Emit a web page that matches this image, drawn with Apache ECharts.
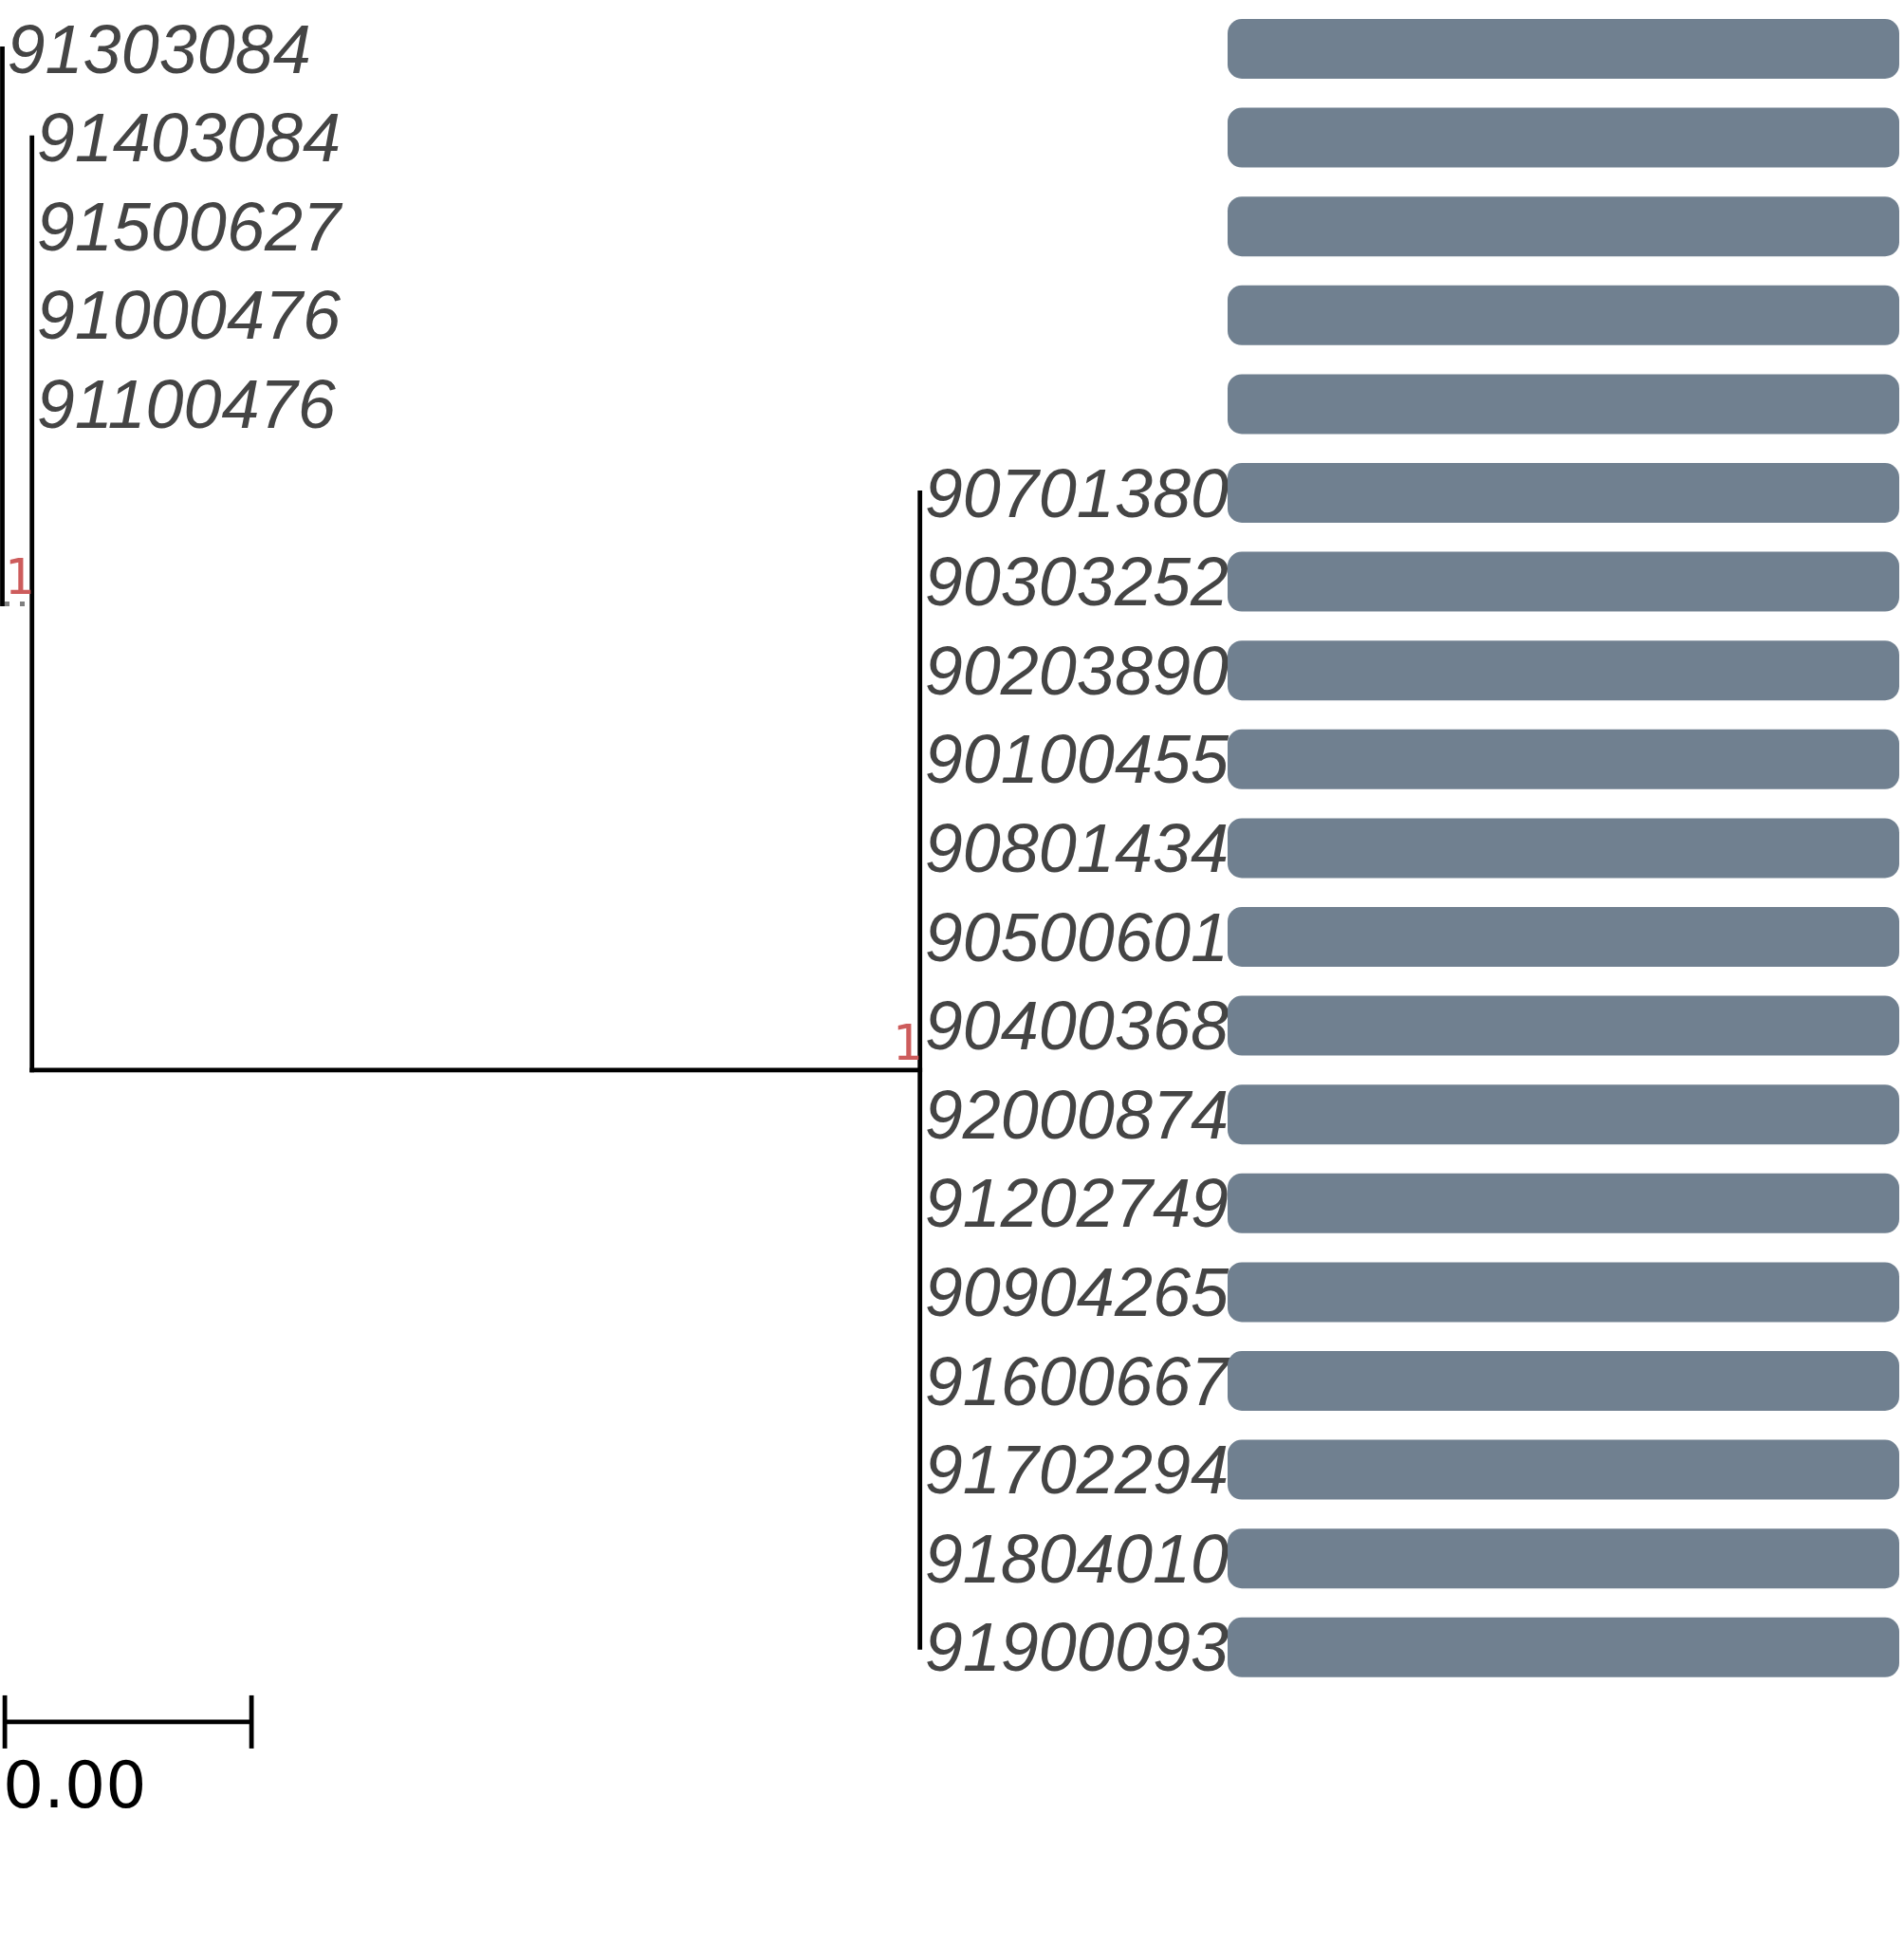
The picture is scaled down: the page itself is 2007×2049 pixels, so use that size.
<!DOCTYPE html>
<html lang="en">
<head>
    <meta charset="UTF-8">
    <title>Tree with bars</title>
    <style>
        html, body { margin: 0; padding: 0; background: #fff; }
        #main { width: 2007px; height: 2049px; }
    </style>
</head>
<body>
    <div id="main"></div>
    <script src="https://cdn.jsdelivr.net/npm/echarts@6/dist/echarts.min.js"></script>
    <script>
        // tips, top to bottom
        var tipLabels = ['91303084', '91403084', '91500627', '91000476', '91100476',
            '90701380', '90303252', '90203890', '90100455', '90801434', '90500601',
            '90400368', '92000874', '91202749', '90904265', '91600667', '91702294',
            '91804010', '91900093'];
        var tipParent = ['root', 'n1', 'n1', 'n1', 'n1',
            'n2', 'n2', 'n2', 'n2', 'n2', 'n2', 'n2', 'n2', 'n2', 'n2', 'n2', 'n2', 'n2', 'n2'];
        var tipBranch = [0, 0, 0, 0, 0, 0, 0, 0, 0, 0, 0, 0, 0, 0, 0, 0, 0, 0, 0];

        // internal nodes
        var nodeIds = ['root', 'n1', 'n2'];
        var nodeParent = [null, 'root', 'n1'];
        var nodeBranch = [0, 0.00012, 0.0036];
        var nodeSupport = ['', '1', '1'];

        // bar panel
        var barValues = [1, 1, 1, 1, 1, 1, 1, 1, 1, 1, 1, 1, 1, 1, 1, 1, 1, 1, 1];

        var scaleBarLength = 0.001;

        // layout bits
        var rowH = 93.6;
        var gridTop = 4.7;
        var scaleBarRow = 18.84;
        var dottedEdges = ['n1'];

        // node x = cumulative branch length
        var nodeX = {}, nodeY = {};
        nodeIds.forEach(function (id, i) {
            var p = nodeParent[i];
            nodeX[id] = (p ? nodeX[p] : 0) + nodeBranch[i];
        });
        var tipX = tipLabels.map(function (t, i) { return nodeX[tipParent[i]] + tipBranch[i]; });

        function childYs(id) {
            var ys = [];
            tipParent.forEach(function (p, i) { if (p === id) ys.push(i); });
            nodeParent.forEach(function (p, i) { if (p === id) ys.push(getNodeY(nodeIds[i])); });
            return ys;
        }
        function getNodeY(id) {
            if (nodeY[id] === undefined) {
                var ys = childYs(id);
                nodeY[id] = (Math.min.apply(null, ys) + Math.max.apply(null, ys)) / 2;
            }
            return nodeY[id];
        }
        nodeIds.forEach(getNodeY);

        // segments: x1, y1, x2, y2, dotted
        var segments = [];
        nodeIds.forEach(function (id, i) {
            var ys = childYs(id);
            segments.push([nodeX[id], Math.min.apply(null, ys), nodeX[id], Math.max.apply(null, ys), 0]);
            var p = nodeParent[i];
            if (p) {
                segments.push([nodeX[p], nodeY[id], nodeX[id], nodeY[id], dottedEdges.indexOf(id) >= 0 ? 1 : 0]);
            }
        });
        tipLabels.forEach(function (t, i) {
            if (tipBranch[i] > 0) {
                var px = nodeX[tipParent[i]];
                segments.push([px, i, tipX[i], i, 0]);
            }
        });

        var tipData = tipLabels.map(function (t, i) { return [tipX[i], i, t]; });
        var supportData = [];
        nodeIds.forEach(function (id, i) {
            if (nodeSupport[i]) supportData.push([nodeX[id], nodeY[id], nodeSupport[i]]);
        });

        var chart = echarts.init(document.getElementById('main'));
        var option = {
            animation: false,
            backgroundColor: '#fff',
            grid: [
                { left: 2.5, top: gridTop, width: 1820, height: rowH * 21.5 },
                { left: 1294, top: gridTop, width: 708, height: rowH * tipLabels.length }
            ],
            xAxis: [
                { type: 'value', gridIndex: 0, min: 0, max: 0.007, show: false },
                { type: 'value', gridIndex: 1, min: 0, max: 1, show: false }
            ],
            yAxis: [
                { type: 'value', gridIndex: 0, min: -0.5, max: 21, inverse: true, show: false },
                { type: 'category', gridIndex: 1, data: tipLabels, inverse: true, show: false }
            ],
            series: [
                {
                    type: 'custom',
                    xAxisIndex: 0, yAxisIndex: 0,
                    data: segments,
                    encode: { x: [0, 2], y: [1, 3] },
                    clip: false,
                    z: 2,
                    renderItem: function (params, api) {
                        var a = api.coord([api.value(0), api.value(1)]);
                        var b = api.coord([api.value(2), api.value(3)]);
                        var dotted = api.value(4) === 1;
                        return {
                            type: 'line',
                            shape: { x1: a[0], y1: a[1], x2: b[0], y2: b[1] },
                            style: dotted
                                ? { stroke: '#808080', lineWidth: 5, lineDash: [5, 11], lineDashOffset: -2.5 }
                                : { stroke: '#000', lineWidth: 4.8, lineCap: 'square' }
                        };
                    }
                },
                {
                    type: 'custom',
                    xAxisIndex: 0, yAxisIndex: 0,
                    data: tipData,
                    encode: { x: 0, y: 1 },
                    clip: false,
                    z: 2,
                    renderItem: function (params, api) {
                        var p = api.coord([api.value(0), api.value(1)]);
                        return {
                            type: 'text',
                            x: p[0] + 5, y: p[1] + 5,
                            style: {
                                text: tipData[params.dataIndex][2],
                                fontSize: 72, fontStyle: 'italic',
                                fontFamily: 'Liberation Sans',
                                fill: '#444444',
                                align: 'left', verticalAlign: 'middle'
                            }
                        };
                    }
                },
                {
                    type: 'custom',
                    xAxisIndex: 0, yAxisIndex: 0,
                    data: supportData,
                    encode: { x: 0, y: 1 },
                    clip: false,
                    z: 2,
                    renderItem: function (params, api) {
                        var p = api.coord([api.value(0), api.value(1)]);
                        return {
                            type: 'text',
                            x: p[0] + 2, y: p[1] + 2,
                            style: {
                                text: supportData[params.dataIndex][2],
                                fontSize: 52,
                                fontFamily: 'DejaVu Sans Mono',
                                fill: '#CD5C5C',
                                align: 'right', verticalAlign: 'bottom'
                            }
                        };
                    }
                },
                {
                    type: 'custom',
                    xAxisIndex: 0, yAxisIndex: 0,
                    data: [[0.00001, 0.00001 + scaleBarLength, scaleBarRow]],
                    encode: { x: [0, 1], y: 2 },
                    clip: false,
                    z: 2,
                    renderItem: function (params, api) {
                        var a = api.coord([api.value(0), api.value(2)]);
                        var b = api.coord([api.value(1), api.value(2)]);
                        var ls = { stroke: '#000', lineWidth: 4.8 };
                        return {
                            type: 'group',
                            children: [
                                { type: 'line', shape: { x1: a[0], y1: a[1], x2: b[0], y2: b[1] }, style: ls },
                                { type: 'line', shape: { x1: a[0], y1: a[1] - 28, x2: a[0], y2: a[1] + 28 }, style: ls },
                                { type: 'line', shape: { x1: b[0], y1: b[1] - 28, x2: b[0], y2: b[1] + 28 }, style: ls },
                                {
                                    type: 'text', x: a[0] - 2, y: a[1] + 38,
                                    style: {
                                        text: scaleBarLength.toFixed(2),
                                        fontSize: 68, fontFamily: 'DejaVu Sans',
                                        fill: '#000', align: 'left', verticalAlign: 'top'
                                    }
                                }
                            ]
                        };
                    }
                },
                {
                    type: 'bar',
                    xAxisIndex: 1, yAxisIndex: 1,
                    data: barValues,
                    barWidth: 63,
                    z: 3,
                    itemStyle: { color: '#708090', borderRadius: 15 },
                    silent: true
                }
            ]
        };
        chart.setOption(option);
    </script>
</body>
</html>
